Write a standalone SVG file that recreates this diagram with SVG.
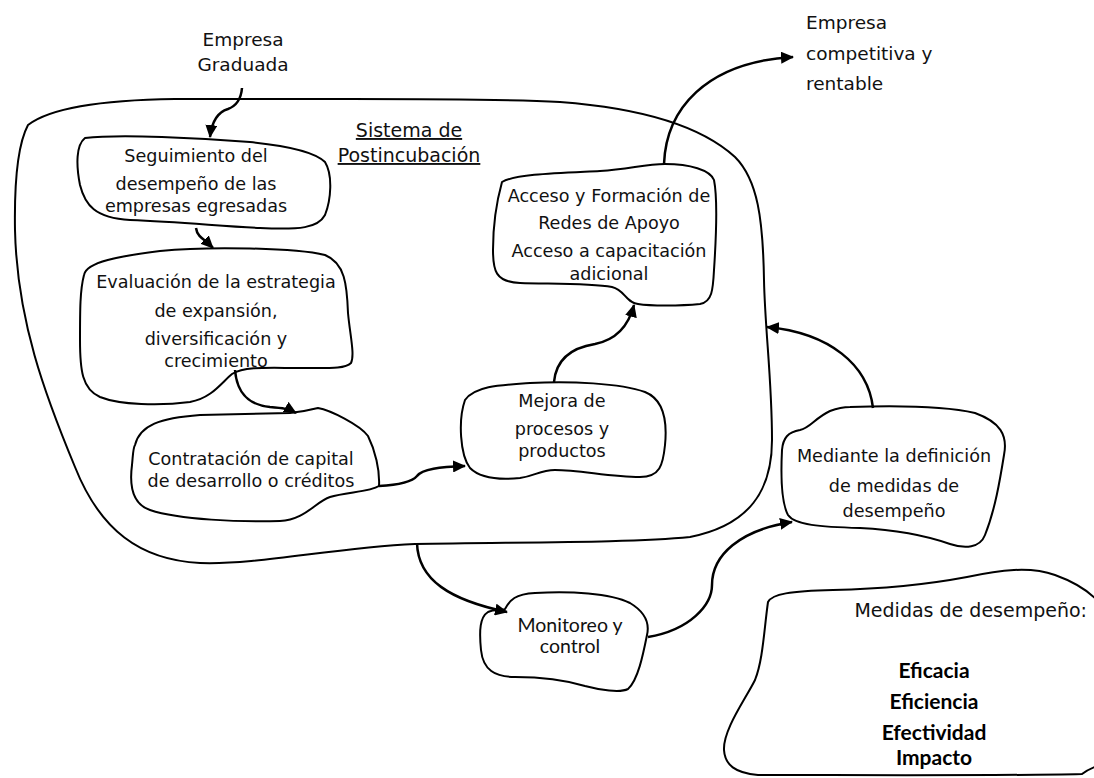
<svg xmlns="http://www.w3.org/2000/svg" width="1094" height="778" viewBox="0 0 1094 778">
<style>
.shape{fill:none;stroke:#000;stroke-width:2;stroke-linejoin:round}
.node{fill:#fff;stroke:#000;stroke-width:2;stroke-linejoin:round}
.conn{fill:none;stroke:#000;stroke-width:2.5;marker-end:url(#ah)}
.t{font-family:"DejaVu Sans",Verdana,sans-serif;font-size:17.6px;fill:#111;text-anchor:middle}
.tl{font-family:"DejaVu Sans",Verdana,sans-serif;font-size:18.5px;fill:#111}
.c{font-family:Lato,"Open Sans",sans-serif;font-size:19.5px;fill:#111;text-anchor:middle}
.b{font-family:Lato,"Open Sans",sans-serif;font-size:21px;font-weight:700;fill:#000;text-anchor:middle}
</style>
<defs>
<marker id="ah" markerUnits="userSpaceOnUse" markerWidth="14" markerHeight="12" refX="12" refY="6" orient="auto">
<path d="M0,0 L13,6 L0,12 z" fill="#000"/>
</marker>
</defs>
<rect width="1094" height="778" fill="#fff"/>

<g id="container">
<path class="shape" d="M28,125 C50,108 100,100 175,99 L351,99 C450,99 520,100 560,102 C640,108 700,125 735,157 C758,180 763,220 764,280 C765,330 772,380 772,440 C772,490 750,525 690,537 C630,543 520,542 415,544 C330,548 260,565 200,563 C140,560 100,530 75,467 C45,395 17,320 15,230 C14,170 20,140 28,125 Z"/>
<text class="t" x="409" y="137" style="font-size:19px;text-decoration:underline">Sistema de</text>
<text class="t" x="409" y="162" style="font-size:19px;text-decoration:underline">Postincubación</text>
</g>

<g id="empresa-graduada">
<text class="t" x="243" y="46" style="font-size:18.5px">Empresa</text>
<text class="t" x="243" y="71" style="font-size:18.5px">Graduada</text>
</g>

<g id="empresa-competitiva">
<text class="tl" x="806" y="29">Empresa</text>
<text class="tl" x="806" y="60">competitiva y</text>
<text class="tl" x="806" y="90">rentable</text>
</g>

<g id="seguimiento">
<path class="node" d="M85,138 C120,134 200,138 250,142 C290,146 315,152 325,162 C333,175 331,200 325,215 C318,228 300,230 260,228 C220,226 180,222 130,220 C95,218 85,205 80,185 C76,165 76,145 85,138 Z"/>
<text class="t" x="196" y="162">Seguimiento del</text>
<text class="t" x="196" y="190">desempeño de las</text>
<text class="t" x="196" y="212">empresas egresadas</text>
</g>

<g id="evaluacion">
<path class="node" d="M84,275 C86,262 120,256 160,251 C210,246 295,248 325,255 C345,263 347,285 348,313 C350,335 355,355 351,363 C345,369 330,368 300,368 C270,368 245,366 232,374 C222,382 212,398 190,402 C160,406 120,405 100,397 C82,389 80,370 80,340 C80,310 80,290 84,275 Z"/>
<text class="t" x="216" y="288">Evaluación de la estrategia</text>
<text class="t" x="216" y="317">de expansión,</text>
<text class="t" x="216" y="345">diversificación y</text>
<text class="t" x="216" y="367">crecimiento</text>
</g>

<g id="contratacion">
<path class="node" d="M135,445 C140,425 160,418 200,415 L290,413 C300,412 310,410 318,408 C330,410 360,425 368,436 C375,450 380,470 379,486 C370,492 345,492 330,497 C315,502 305,520 280,521 C240,522 180,520 150,510 C130,503 130,480 132,465 C133,455 133,448 135,445 Z"/>
<text class="t" x="251" y="465">Contratación de capital</text>
<text class="t" x="251" y="487">de desarrollo o créditos</text>
</g>

<g id="mejora">
<path class="node" d="M465,400 C475,386 500,385 530,383 C570,381 620,383 645,392 C665,400 667,425 665,445 C663,465 660,477 640,477 C610,477 580,470 555,470 C540,470 535,476 520,478 C500,480 480,478 470,468 C460,455 458,420 465,400 Z"/>
<text class="t" x="562" y="407">Mejora de</text>
<text class="t" x="562" y="435">procesos y</text>
<text class="t" x="562" y="457">productos</text>
</g>

<g id="acceso">
<path class="node" d="M502,182 C515,174 560,173 600,171 C630,169 645,164 665,164 C690,164 710,170 714,180 C718,200 716,240 714,270 C713,290 712,302 700,304 C680,306 650,306 638,304 C625,302 625,290 612,287 C590,283 550,284 520,283 C495,282 493,270 493,250 C493,225 497,200 502,182 Z"/>
<text class="t" x="609" y="202">Acceso y Formación de</text>
<text class="t" x="609" y="229">Redes de Apoyo</text>
<text class="t" x="609" y="257">Acceso a capacitación</text>
<text class="t" x="609" y="280">adicional</text>
</g>

<g id="mediante">
<path class="node" d="M850,407 C880,406 940,405 975,413 C1000,422 1008,435 1004,455 C1000,480 995,510 985,535 C980,548 965,549 950,544 C930,537 900,530 860,528 C820,527 795,525 788,515 C780,500 781,470 782,450 C783,438 788,432 800,430 C810,428 815,418 830,411 C838,408 845,407 850,407 Z"/>
<text class="t" x="894" y="462">Mediante la definición</text>
<text class="t" x="894" y="492">de medidas de</text>
<text class="t" x="894" y="517">desempeño</text>
</g>

<g id="monitoreo">
<path class="node" d="M505,609 C510,600 515,594 535,593 C570,591 610,593 630,603 C645,612 650,622 647,635 C643,655 638,680 628,689 C620,693 600,690 585,686 C565,680 545,677 515,677 C495,677 483,670 481,650 C479,630 480,617 488,612 C495,609 502,611 505,609 Z"/>
<text class="c" x="570" y="632">Monitoreo y</text>
<text class="c" x="570" y="653">control</text>
</g>

<g id="medidas">
<path class="node" d="M768,602 C772,594 790,591 833,590 C880,589 930,584 967,577 C1000,570 1030,566 1055,575 C1080,584 1095,595 1105,610 L1105,760 C1098,768 1092,766 1082,774 C1000,776 850,775 758,775 C735,773 725,765 724,750 C723,730 745,700 755,680 C763,660 764,630 768,602 Z"/>
<text class="t" x="1087" y="617" style="font-size:19px;text-anchor:end">Medidas de desempeño:</text>
<text class="b" x="934" y="678">Eficacia</text>
<text class="b" x="934" y="709">Eficiencia</text>
<text class="b" x="934" y="740">Efectividad</text>
<text class="b" x="934" y="765">Impacto</text>
</g>

<g id="connectors">
<path class="conn" d="M242,88 C241,100 236,106 228,109 C218,112 212,120 210,137"/>
<path class="conn" d="M196,228 C197,236 203,239 207,242 L213,248"/>
<path class="conn" d="M235,370 C237,395 250,405 270,407 C283,408 289,409 296,413"/>
<path class="conn" d="M379,486 C398,485 412,482 417,476 C422,469 440,467 465,466"/>
<path class="conn" d="M554,382 C556,360 570,348 595,344 C615,340 628,328 634,305"/>
<path class="conn" d="M664,164 C666,110 705,62 793,57"/>
<path class="conn" d="M873,408 C868,365 830,333 767,327"/>
<path class="conn" d="M417,543 C418,580 450,600 507,612"/>
<path class="conn" d="M648,637 C690,630 712,605 712,585 C712,555 740,530 792,522"/>
</g>
</svg>
